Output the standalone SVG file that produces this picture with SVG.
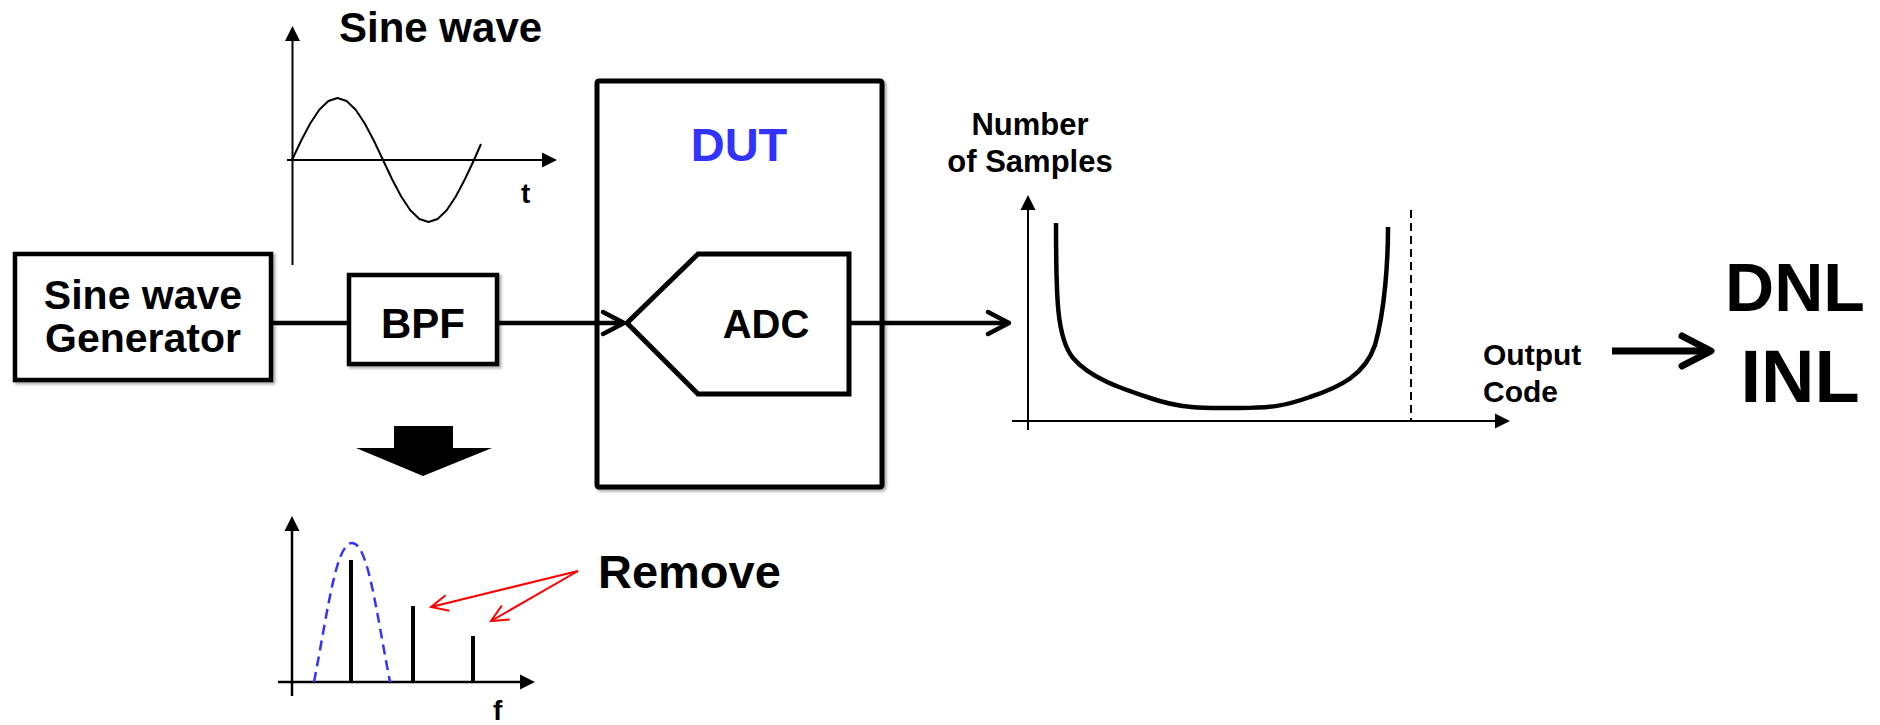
<svg xmlns="http://www.w3.org/2000/svg" width="1880" height="725" viewBox="0 0 1880 725">
<style>
text{font-family:"Liberation Sans",Arial,sans-serif;font-weight:bold;fill:#000}
.box{fill:#fff;stroke:#000;stroke-width:4.5;filter:url(#sh)}
.axis{fill:none;stroke:#000;stroke-width:2}
.sig{fill:none;stroke:#000;stroke-width:4.5}
.bar{stroke:#000;stroke-width:4}
.red{fill:none;stroke:#ff0000;stroke-width:2}
</style>
<defs>
<filter id="sh" x="-10%" y="-10%" width="130%" height="130%">
<feDropShadow dx="2" dy="2" stdDeviation="1.5" flood-color="#000" flood-opacity="0.35"/>
</filter>
<marker id="tri" markerUnits="userSpaceOnUse" markerWidth="16" markerHeight="16" refX="0" refY="7.5" orient="auto" overflow="visible">
<path d="M0,0 L15,7.5 L0,15 Z" fill="#000"/>
</marker>
<marker id="chev" markerUnits="userSpaceOnUse" markerWidth="30" markerHeight="30" refX="0" refY="0" orient="auto" overflow="visible">
<path d="M-21,-11 L0,0 L-21,11" fill="none" stroke="#000" stroke-width="4.5" stroke-linecap="round" stroke-linejoin="round"/>
</marker>
<marker id="bigchev" markerUnits="userSpaceOnUse" markerWidth="40" markerHeight="40" refX="0" refY="0" orient="auto" overflow="visible">
<path d="M-29,-15 L0,0 L-29,15" fill="none" stroke="#000" stroke-width="7" stroke-linecap="round" stroke-linejoin="round"/>
</marker>
<marker id="redchev" markerUnits="userSpaceOnUse" markerWidth="20" markerHeight="20" refX="0" refY="0" orient="auto" overflow="visible">
<path d="M-17,-8 L0,0 L-17,8" fill="none" stroke="#ff0000" stroke-width="2"/>
</marker>
</defs>
<rect width="1880" height="725" fill="#fff"/>

<g id="sine-plot">
<text x="339" y="42" font-size="42">Sine wave</text>
<line class="axis" x1="292.5" y1="265" x2="292.5" y2="41" marker-end="url(#tri)"/>
<line class="axis" x1="287" y1="160" x2="542" y2="160" marker-end="url(#tri)"/>
<polyline fill="none" stroke="#000" stroke-width="2" stroke-linejoin="round" points="292,160 301.1,140.8 310.2,123.5 319.3,109.8 328.4,101 337.5,98 346.6,101 355.7,109.8 364.8,123.5 373.9,140.8 383,160 392.1,179.2 401.2,196.5 410.3,210.2 419.4,219 428.5,222 437.6,219 446.7,210.2 455.8,196.5 464.9,179.2 474,160 481,144"/>
<text x="521" y="203" font-size="28">t</text>
</g>

<g id="generator">
<rect class="box" x="15" y="254" width="256" height="126"/>
<text x="143" y="309" font-size="41" text-anchor="middle">Sine wave</text>
<text x="143" y="352" font-size="41" text-anchor="middle">Generator</text>
</g>

<g id="bpf">
<rect class="box" x="349" y="275" width="148" height="89"/>
<text x="423" y="338" font-size="42" text-anchor="middle">BPF</text>
</g>

<g id="dut">
<rect x="597" y="81" width="285" height="406" rx="2" fill="#fff" stroke="#000" stroke-width="5" filter="url(#sh)"/>
<text x="739" y="161" font-size="47" text-anchor="middle" style="fill:#3333ff">DUT</text>
</g>

<g id="adc">
<path d="M627,323 L698,254 L849,254 L849,394 L698,394 Z" fill="#fff" stroke="#000" stroke-width="5" stroke-linejoin="miter"/>
<text x="766" y="338" font-size="40" text-anchor="middle">ADC</text>
</g>

<g id="histogram">
<text x="1030" y="135" font-size="31" text-anchor="middle">Number</text>
<text x="1030" y="172" font-size="31" text-anchor="middle">of Samples</text>
<line class="axis" x1="1028" y1="430" x2="1028" y2="210" marker-end="url(#tri)"/>
<line class="axis" x1="1012" y1="421" x2="1495" y2="421" marker-end="url(#tri)"/>
<line x1="1411" y1="210" x2="1411" y2="421" stroke="#000" stroke-width="2" stroke-dasharray="8,5"/>
<path d="M1056,223 C1056,300 1057,338 1073,358 C1090,378 1120,388 1150,398 C1185,410 1210,408 1240,408 C1270,408 1285,406 1310,397 C1340,387 1365,375 1375,345 C1385,310 1388,260 1388,227" fill="none" stroke="#000" stroke-width="4.5"/>
<text x="1483" y="365" font-size="30">Output</text>
<text x="1483" y="402" font-size="30">Code</text>
</g>

<g id="result">
<text x="1795" y="311" font-size="68" text-anchor="middle">DNL</text>
<text x="1800" y="402" font-size="74" text-anchor="middle">INL</text>
</g>

<g id="filter-arrow">
<path d="M394,426 L453,426 L453,448 L492,448 L423,476 L356,448 L394,448 Z" fill="#000"/>
</g>

<g id="spectrum">
<line class="axis" x1="292" y1="696" x2="292" y2="531" marker-end="url(#tri)" style="stroke-width:2.5"/>
<line class="axis" x1="278" y1="682" x2="520" y2="682" marker-end="url(#tri)" style="stroke-width:2.5"/>
<path d="M314,682 C328,610 336,543 352,543 C368,543 376,610 390,682" fill="none" stroke="#3333ff" stroke-width="2.5" stroke-dasharray="10,6"/>
<line class="bar" x1="351" y1="560" x2="351" y2="681"/>
<line class="bar" x1="413" y1="606" x2="413" y2="681"/>
<line class="bar" x1="473" y1="636" x2="473" y2="681"/>
<text x="493" y="720" font-size="28">f</text>
</g>

<g id="remove">
<text x="598" y="588" font-size="47">Remove</text>
<line class="red" x1="578" y1="571" x2="431" y2="607" marker-end="url(#redchev)"/>
<line class="red" x1="578" y1="571" x2="491" y2="621" marker-end="url(#redchev)"/>
</g>

<g id="connectors">
<line class="sig" x1="271" y1="323" x2="349" y2="323"/>
<line class="sig" x1="497" y1="323" x2="624" y2="323" marker-end="url(#chev)"/>
<line class="sig" x1="849" y1="323" x2="1009" y2="323" marker-end="url(#chev)"/>
<line x1="1612" y1="351" x2="1711" y2="351" stroke="#000" stroke-width="7" marker-end="url(#bigchev)"/>
</g>
</svg>
